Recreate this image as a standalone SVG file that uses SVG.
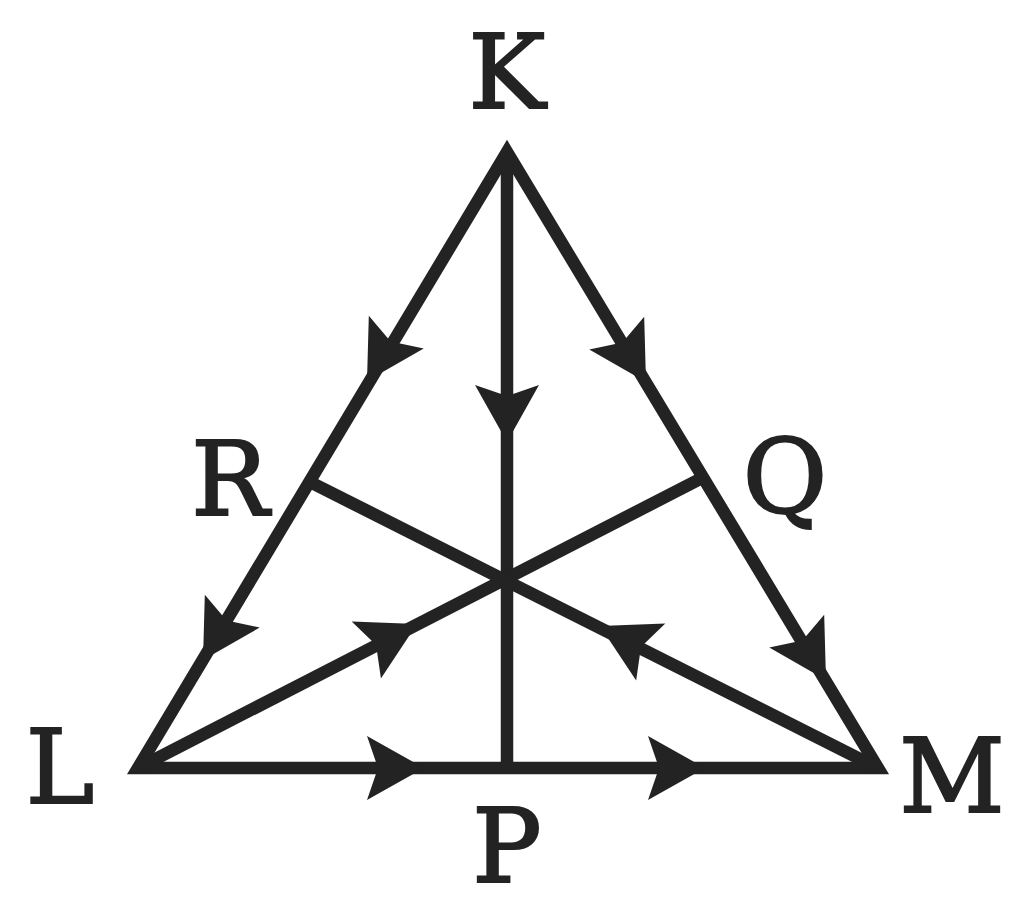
<svg xmlns="http://www.w3.org/2000/svg" width="1024" height="919" viewBox="0 0 1024 919">
<style>
.ln{fill:none;stroke:#232323;stroke-width:12.5;stroke-linejoin:miter;stroke-miterlimit:10}
.lbl{font-family:"DejaVu Serif","Liberation Serif",serif;font-size:103px;fill:#232323;stroke:#232323;stroke-width:2.2;text-anchor:middle}
</style>
<defs>
<path id="ah" d="M0,0 L-57,-32 L-46,0 L-57,32 Z" fill="#232323"/>
</defs>
<rect width="1024" height="919" fill="#ffffff"/>
<g id="connectors">
<polygon class="ln" points="507,152 138,768 878,768"/>
<line class="ln" x1="507" y1="152" x2="507" y2="768"/>
<line class="ln" x1="138" y1="768" x2="702" y2="478"/>
<line class="ln" x1="878" y1="768" x2="310" y2="482"/>
<use href="#ah" transform="translate(367,381) rotate(120.9)"/>
<use href="#ah" transform="translate(203,660) rotate(120.9)"/>
<use href="#ah" transform="translate(646,382) rotate(59.1)"/>
<use href="#ah" transform="translate(826,680) rotate(59.1)"/>
<use href="#ah" transform="translate(507,442) rotate(90)"/>
<use href="#ah" transform="translate(424,768)"/>
<use href="#ah" transform="translate(705,768)"/>
<use href="#ah" transform="translate(417,624) rotate(-27.2)"/>
<use href="#ah" transform="translate(600,626) rotate(207.1)"/>
</g>
<g id="node-K"><text class="lbl" x="507" y="108">K</text></g>
<g id="node-R"><text class="lbl" x="230" y="515">R</text></g>
<g id="node-Q"><text class="lbl" x="785" y="513">Q</text></g>
<g id="node-L"><text class="lbl" x="60" y="803">L</text></g>
<g id="node-M"><text class="lbl" x="952" y="812">M</text></g>
<g id="node-P"><text class="lbl" x="507" y="882">P</text></g>
</svg>
